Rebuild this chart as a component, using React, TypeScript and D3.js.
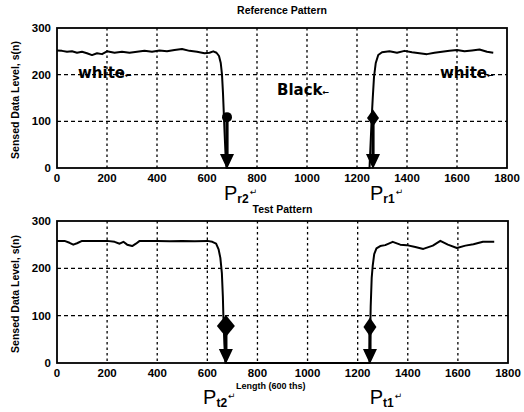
import React from "react";
import * as d3 from "d3";

const refX = [0, 20, 40, 60, 80, 100, 120, 140, 160, 180, 200, 230, 260, 290, 320, 350, 380, 410, 440, 470, 500, 530, 560, 590, 610, 625, 638, 648, 655, 660, 664, 667, 670, 674, 678, 1250, 1255, 1259, 1263, 1268, 1275, 1285, 1300, 1330, 1360, 1390, 1420, 1450, 1480, 1510, 1540, 1570, 1600, 1630, 1660, 1690, 1720, 1745];
const refY = [252, 251, 249, 250, 247, 249, 246, 242, 246, 244, 250, 247, 249, 247, 249, 251, 249, 252, 250, 253, 255, 251, 249, 246, 247, 250, 247, 240, 225, 200, 160, 120, 80, 30, 0, 0, 60, 110, 150, 195, 225, 242, 248, 250, 247, 251, 248, 246, 244, 247, 249, 251, 253, 250, 252, 254, 249, 247];

const testX = [0, 30, 50, 65, 80, 100, 150, 200, 230, 250, 265, 280, 300, 315, 330, 400, 450, 500, 550, 600, 620, 635, 645, 652, 658, 662, 664, 668, 672, 1247, 1250, 1252, 1256, 1260, 1266, 1275, 1290, 1310, 1340, 1370, 1396, 1430, 1462, 1500, 1530, 1560, 1596, 1630, 1662, 1700, 1745];
const testY = [258, 258, 254, 250, 253, 258, 258, 258, 256, 252, 256, 250, 247, 252, 258, 258, 257, 258, 257, 258, 256, 252, 240, 222, 190, 140, 100, 40, 0, 0, 60, 120, 180, 205, 230, 242, 247, 249, 256, 250, 249, 245, 241, 248, 258, 250, 243, 248, 251, 256, 256];

const xTicks = [0, 200, 400, 600, 800, 1000, 1200, 1400, 1600, 1800];
const yTicks = [0, 100, 200, 300];

const refMarkers = [
  { x: 680, y: 109, shape: "circle", r: 5 },
  { x: 1264, y: 107, shape: "diamond", w: 12, h: 17 },
];
const testMarkers = [
  { x: 674, y: 78, shape: "diamond", w: 18, h: 22 },
  { x: 1249, y: 76, shape: "diamond", w: 13, h: 19 },
];

const refPoints = [
  { x: 668, main: "P", sub: "r2" },
  { x: 1252, main: "P", sub: "r1" },
];
const testPoints = [
  { x: 583, main: "P", sub: "t2" },
  { x: 1248, main: "P", sub: "t1" },
];

const refTexts = [
  { x: 84, y: 193, text: "white" },
  { x: 880, y: 156, text: "Black" },
  { x: 1532, y: 193, text: "white" },
];

const FONT = "'Liberation Sans', Arial, sans-serif";
const BIG = "'DejaVu Sans', sans-serif";

type Marker = { x: number; y: number; shape: string; r?: number; w?: number; h?: number };

function Panel(props: {
  top: number;
  bottom: number;
  left: number;
  right: number;
  xs: number[];
  ys: number[];
  markers: Marker[];
  points: { x: number; main: string; sub: string }[];
  texts: { x: number; y: number; text: string }[];
  title: string;
  titleY: number;
  pBaseline: number;
}) {
  const { top, bottom, left, right, xs, ys, markers, points, texts, title, titleY, pBaseline } = props;
  const x = d3.scaleLinear().domain([0, 1800]).range([left, right]);
  const y = d3.scaleLinear().domain([0, 300]).range([bottom, top]);
  const line = d3
    .line<number>()
    .x((_, i) => x(xs[i]))
    .y((d) => y(d));
  const path = line(ys) || "";
  return (
    <g>
      <text x={(left + right) / 2} y={titleY} textAnchor="middle" fontFamily={FONT} fontWeight="bold" fontSize={10.5}>
        {title}
      </text>
      {xTicks.slice(1, -1).map((t) => (
        <line key={"vx" + t} x1={x(t)} x2={x(t)} y1={top} y2={bottom} stroke="#000" strokeWidth={1.3} strokeDasharray="2.5,3" />
      ))}
      {yTicks.slice(1, -1).map((t) => (
        <line key={"hy" + t} x1={left} x2={right} y1={y(t)} y2={y(t)} stroke="#000" strokeWidth={1.3} strokeDasharray="4,3" />
      ))}
      <rect x={left} y={top} width={right - left} height={bottom - top} fill="none" stroke="#000" strokeWidth={1.8} />
      <path d={path} fill="none" stroke="#000" strokeWidth={2} strokeLinejoin="round" />
      {xTicks.map((t) => (
        <text key={"xt" + t} x={x(t)} y={bottom + 13.5} textAnchor="middle" fontFamily={FONT} fontWeight="bold" fontSize={11.5}>
          {t}
        </text>
      ))}
      {yTicks.map((t) => (
        <text key={"yt" + t} x={left - 6} y={y(t) + 4} textAnchor="end" fontFamily={FONT} fontWeight="bold" fontSize={11.5}>
          {t}
        </text>
      ))}
      <text
        transform={`translate(${19},${(top + bottom) / 2 + 2}) rotate(-90)`}
        textAnchor="middle"
        fontFamily={FONT}
        fontWeight="bold"
        fontSize={10.5}
      >
        Sensed Data Level, s(n)
      </text>
      {markers.map((m, i) => {
        const cx = x(m.x);
        const cy = y(m.y);
        const tip = y(0);
        const hh = 14;
        return (
          <g key={"m" + i}>
            <line x1={cx} x2={cx} y1={cy} y2={tip - hh + 2} stroke="#000" strokeWidth={3.2} />
            <path d={`M${cx - 7},${tip - hh} L${cx + 7},${tip - hh} L${cx},${tip + 1} Z`} fill="#000" />
            {m.shape === "circle" ? (
              <circle cx={cx} cy={cy} r={m.r} fill="#000" />
            ) : (
              <path
                d={`M${cx},${cy - (m.h || 0) / 2} L${cx + (m.w || 0) / 2},${cy} L${cx},${cy + (m.h || 0) / 2} L${cx - (m.w || 0) / 2},${cy} Z`}
                fill="#000"
              />
            )}
          </g>
        );
      })}
      {points.map((p, i) => (
        <text key={"p" + i} x={x(p.x)} y={pBaseline} fontFamily={FONT} fontSize={20}>
          {p.main}
          <tspan fontSize={12} dy={3} fontWeight="bold">
            {p.sub}
          </tspan>
          <tspan fontSize={9} dy={-8} dx={1} fontFamily={BIG}>
            ↵
          </tspan>
        </text>
      ))}
      {texts.map((t, i) => (
        <text key={"t" + i} x={x(t.x)} y={y(t.y)} fontFamily={BIG} fontWeight="bold" fontSize={15}>
          {t.text}
          <tspan fontSize={8} fontFamily={BIG}>←</tspan>
        </text>
      ))}
    </g>
  );
}

export default function App() {
  return (
    <svg width={524} height={412} style={{ position: "absolute", left: 0, top: 0, background: "#fff" }}>
      <rect x={0} y={0} width={524} height={412} fill="#fff" />
      <Panel
        top={28}
        bottom={168}
        left={57}
        right={507}
        xs={refX}
        ys={refY}
        markers={refMarkers}
        points={refPoints}
        texts={refTexts}
        title="Reference Pattern"
        titleY={14}
        pBaseline={200}
      />
      <Panel
        top={221}
        bottom={363}
        left={57}
        right={508}
        xs={testX}
        ys={testY}
        markers={testMarkers}
        points={testPoints}
        texts={[]}
        title="Test Pattern"
        titleY={213}
        pBaseline={404}
      />
      <text x={236} y={389} fontFamily={FONT} fontWeight="bold" fontSize={9}>
        Length (600 ths)
      </text>
    </svg>
  );
}
